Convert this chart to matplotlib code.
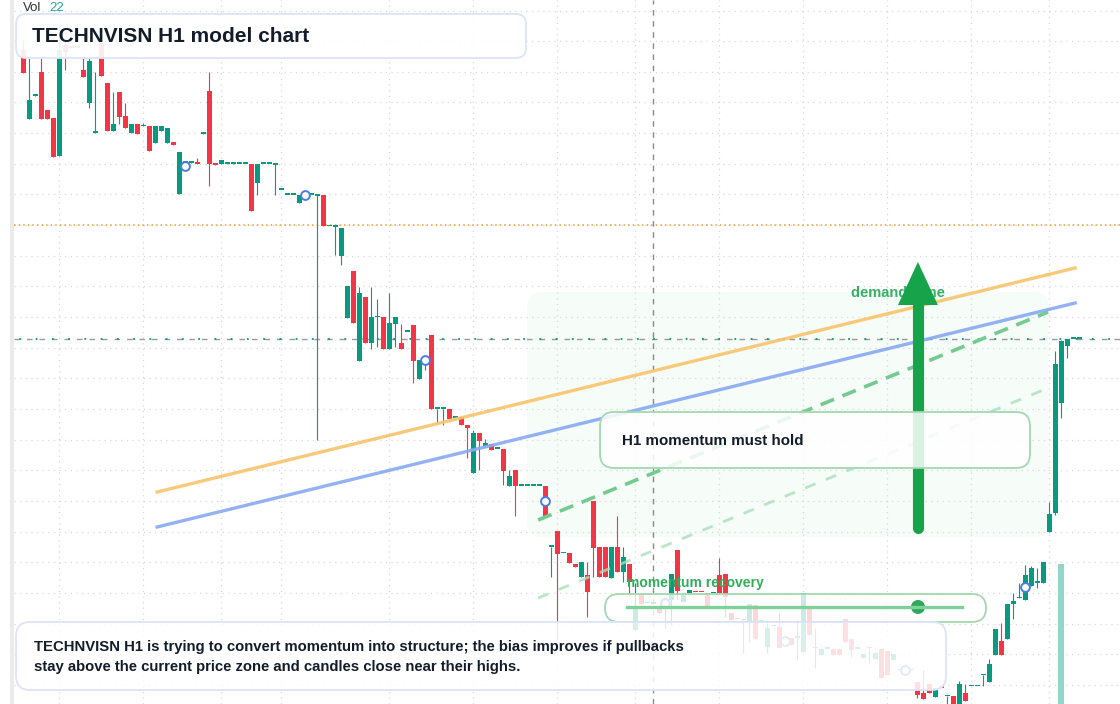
import matplotlib
matplotlib.use("Agg")
from matplotlib import pyplot as plt
from matplotlib.patches import FancyBboxPatch, Rectangle, Circle

plt.rcParams['font.family'] = ['Liberation Sans', 'DejaVu Sans']

# свечи H1: open / high / low / close (по индексу бара)
opens = [49.00, 47.62, 48.08, 48.56, 47.80, 47.64, 46.88, 49.10, 49.06, 49.04,
         48.60, 47.94, 47.34, 49.14, 48.34, 47.38, 48.16, 47.68, 47.34, 47.52,
         47.48, 47.48, 47.14, 47.38, 47.14, 47.16, 46.12, 46.74, 46.75, 46.74,
         47.33, 48.18, 46.72, 46.72, 46.73, 46.73, 46.72, 46.72, 46.72, 46.34,
         46.72, 46.72, 46.71, 46.20, 46.10, 46.10, 45.94, 46.10, 46.10, 46.09,
         46.10, 45.48, 45.47, 44.88, 43.64, 44.58, 42.78, 44.06, 43.14, 43.66,
         43.66, 43.02, 43.52, 43.14, 43.36, 43.50, 42.42, 42.70, 43.30, 41.82,
         41.82, 41.82, 41.64, 41.66, 41.50, 40.54, 41.34, 41.08, 41.12, 41.02,
         41.02, 40.28, 40.60, 40.28, 40.28, 40.28, 40.28, 40.28, 39.06, 39.38,
         38.94, 38.94, 38.72, 38.46, 38.50, 39.98, 39.06, 39.06, 38.44, 39.06,
         38.56, 38.72, 37.40, 38.12, 37.94, 37.92, 37.84, 37.94, 38.00, 39.00,
         37.96, 38.14, 38.17, 38.17, 38.14, 38.14, 38.50, 38.52, 37.74, 37.63,
         37.61, 37.54, 37.90, 37.56, 37.06, 37.48, 37.46, 37.18, 37.24, 37.24,
         36.96, 37.84, 37.04, 36.90, 37.02, 37.02, 37.02, 37.62, 37.22, 37.02,
         36.84, 37.05, 36.82, 37.02, 36.98, 36.80, 36.60, 36.60, 36.60, 36.36,
         36.14, 36.32, 36.06, 36.25, 36.08, 36.08, 35.88, 36.14, 36.28, 36.28,
         36.50, 36.36, 36.90, 37.18, 37.22, 37.92, 38.04, 38.00, 38.28, 38.34,
         38.34, 39.36, 39.74, 41.94, 43.08, 43.22, 43.22]
highs = [49.20, 48.84, 48.10, 48.84, 47.80, 47.64, 49.50, 49.20, 49.06, 49.06,
         48.90, 48.84, 48.56, 49.20, 48.34, 48.16, 48.16, 47.94, 47.52, 47.52,
         47.54, 47.48, 47.48, 47.48, 47.44, 47.16, 46.96, 46.76, 46.76, 46.84,
         47.34, 48.56, 46.72, 46.80, 46.74, 46.74, 46.72, 46.72, 46.72, 46.72,
         46.72, 46.72, 46.72, 46.20, 46.10, 46.10, 46.10, 46.10, 46.10, 46.10,
         46.10, 45.48, 45.48, 45.44, 44.28, 44.58, 44.26, 44.06, 44.26, 44.02,
         43.66, 44.14, 43.66, 43.52, 43.36, 43.50, 42.80, 42.76, 43.30, 41.82,
         41.82, 41.82, 41.64, 41.66, 41.50, 41.40, 41.34, 41.22, 41.12, 41.02,
         41.02, 40.60, 40.60, 40.28, 40.28, 40.28, 40.28, 40.28, 39.06, 39.38,
         38.94, 38.94, 38.72, 38.76, 38.76, 39.98, 39.06, 39.06, 39.06, 39.68,
         39.06, 38.72, 38.34, 38.12, 37.94, 37.92, 37.84, 38.00, 38.52, 39.00,
         38.12, 38.20, 38.17, 38.17, 38.14, 38.14, 38.84, 38.52, 37.74, 37.63,
         37.61, 37.92, 37.90, 37.56, 37.54, 37.48, 37.74, 37.18, 37.24, 37.60,
         38.14, 37.84, 37.44, 37.02, 37.02, 37.02, 37.02, 37.62, 37.22, 37.02,
         36.92, 37.05, 36.94, 37.02, 36.98, 36.92, 36.60, 36.60, 36.60, 36.36,
         36.60, 36.32, 36.24, 36.25, 36.08, 36.08, 36.38, 36.32, 36.28, 36.28,
         36.50, 36.82, 37.42, 37.54, 37.92, 38.14, 38.34, 38.70, 38.68, 38.64,
         38.76, 39.96, 42.98, 43.20, 43.22, 43.22, 43.22]
lows = [48.54, 47.62, 48.08, 47.62, 47.62, 46.86, 46.88, 48.60, 49.04, 49.04,
        48.46, 47.84, 47.34, 48.48, 47.38, 47.38, 47.52, 47.44, 47.34, 47.32,
        47.48, 46.98, 47.14, 47.38, 47.14, 47.10, 46.12, 46.74, 46.75, 46.72,
        47.33, 46.28, 46.71, 46.72, 46.73, 46.73, 46.72, 46.72, 45.78, 46.10,
        46.72, 46.72, 46.10, 46.20, 46.10, 46.10, 45.94, 46.10, 46.10, 41.20,
        45.48, 45.48, 44.90, 44.70, 43.64, 43.54, 42.78, 43.14, 43.02, 43.06,
        43.02, 43.02, 43.06, 43.02, 43.36, 42.34, 42.42, 42.60, 41.82, 41.52,
        41.50, 41.62, 41.64, 41.50, 40.84, 40.54, 40.60, 41.08, 41.00, 41.02,
        40.30, 40.28, 39.68, 40.28, 40.28, 40.28, 40.28, 39.68, 38.46, 37.20,
        38.94, 38.74, 38.66, 38.46, 37.66, 38.46, 38.46, 38.46, 38.44, 38.56,
        38.36, 38.10, 37.40, 37.92, 37.94, 37.92, 37.74, 37.44, 37.50, 38.00,
        37.96, 38.14, 38.16, 38.16, 37.86, 38.14, 38.14, 37.66, 37.60, 37.62,
        36.94, 37.16, 37.22, 37.56, 36.94, 37.48, 37.04, 37.18, 37.10, 36.80,
        36.96, 37.30, 36.64, 36.90, 37.02, 36.90, 36.90, 37.16, 36.86, 37.02,
        36.84, 36.74, 36.82, 36.44, 36.50, 36.80, 36.60, 36.60, 36.60, 36.04,
        36.02, 36.14, 36.06, 36.24, 35.92, 35.88, 35.88, 35.98, 36.28, 36.28,
        36.28, 36.36, 36.90, 36.90, 37.22, 37.62, 38.04, 38.00, 38.28, 38.24,
        38.34, 39.36, 39.70, 41.64, 42.84, 43.22, 43.22]
closes = [48.54, 48.00, 48.10, 47.62, 47.62, 46.86, 49.00, 48.96, 49.04, 49.06,
          48.46, 48.78, 47.36, 48.48, 47.38, 47.52, 47.66, 47.44, 47.52, 47.32,
          47.50, 46.98, 47.48, 47.48, 47.44, 47.10, 46.96, 46.76, 46.76, 46.72,
          47.34, 46.72, 46.71, 46.80, 46.74, 46.74, 46.72, 46.72, 45.78, 46.72,
          46.72, 46.72, 46.72, 46.20, 46.10, 46.10, 46.10, 46.10, 46.10, 46.10,
          45.48, 45.48, 45.48, 45.44, 44.28, 43.54, 44.14, 43.14, 43.66, 43.67,
          43.02, 43.54, 43.66, 43.02, 43.36, 42.78, 42.80, 42.71, 41.82, 41.82,
          41.82, 41.62, 41.64, 41.50, 41.44, 41.34, 41.18, 41.14, 41.00, 41.02,
          40.58, 40.48, 40.28, 40.28, 40.28, 40.28, 40.28, 39.68, 39.06, 38.92,
          38.94, 38.74, 38.66, 38.76, 38.16, 39.04, 38.46, 38.46, 39.06, 38.56,
          38.86, 38.36, 37.86, 37.92, 37.94, 37.92, 37.74, 37.94, 38.52, 38.18,
          38.12, 38.20, 38.16, 38.16, 37.86, 38.14, 38.14, 38.06, 37.60, 37.62,
          37.60, 37.92, 37.22, 37.56, 37.44, 37.48, 37.04, 37.18, 37.10, 37.24,
          38.14, 37.30, 37.04, 37.02, 37.02, 36.90, 36.90, 37.16, 37.00, 37.02,
          36.92, 37.04, 36.94, 36.44, 36.50, 36.92, 36.60, 36.60, 36.60, 36.10,
          36.02, 36.14, 36.24, 36.24, 36.08, 35.88, 36.32, 35.98, 36.28, 36.28,
          36.50, 36.72, 37.42, 36.90, 37.92, 37.98, 38.04, 38.50, 38.64, 38.34,
          38.76, 39.72, 42.72, 43.18, 43.22, 43.22, 43.22]

# отметки (кружки) на барах
marker_idx = [27, 47, 67, 87, 107, 127, 147, 167]
marker_val = [46.68, 46.10, 42.80, 39.98, 37.94, 37.18, 36.60, 38.26]

# границы сессий (вертикальная сетка)
session_idx = [6, 20, 33, 43, 61, 75, 89, 102, 116, 130, 144, 158, 171]

# трендовые линии: (x0, x1), (y0, y1)
orange_x, orange_y = [22.3, 175.3], [40.16, 44.64]
blue_x, blue_y = [22.3, 175.3], [39.46, 43.94]
green_x, green_y = [85.8, 170.8], [39.60, 43.76]
green2_x, green2_y = [85.8, 170.8], [38.04, 42.24]

zone_x, zone_y = [84.0, 170.8], [39.26, 44.16]
arrow_x, arrow_y = 149.1, [39.44, 44.76]
alert_level = 45.50
last_price = 43.22
cross_idx = 105
vol_idx, vol_value = 173, 22

UP, DOWN = '#089981', '#f23645'

fig = plt.figure(figsize=(11.2, 7.04), dpi=100)
ax = fig.add_axes([0, 0, 1, 1], zorder=1)
ax.set_xlim(-3.883, 182.78)
ax.set_ylim(35.92, 50.0)
ax.axis('off')

# сетка
k = 0
while 49.79 - 0.613 * k > 35.92:
    ax.axhline(49.79 - 0.613 * k, xmin=0.0125, color='#d8d8d8', lw=0.9,
               ls=(0, (1, 3.5)), zorder=1)
    k += 1
for s in session_idx:
    ax.axvline(s, color='#d8d8d8', lw=0.9, ls=(0, (1, 3.5)), zorder=1)

ax.axhline(alert_level, xmin=0.0125, color='#f0a030', lw=1.1, ls=(0, (1, 2)), zorder=1.5)
ax.axhline(last_price, xmin=0.0125, color='#9a9a9a', lw=1, ls=(0, (4, 5)), zorder=1.5)
ax.axhline(last_price, xmin=0.0125, color=UP, lw=1.3, ls=(6, (1, 8)), zorder=1.6)
ax.axvline(cross_idx, color='#8a8a8a', lw=1, ls=(0, (4, 4)), zorder=1.5)

# свечи
for i in range(len(opens)):
    o, h, l, c = opens[i], highs[i], lows[i], closes[i]
    col = UP if c >= o else DOWN
    ax.vlines(i, l, h, color=col, lw=0.8, zorder=3)
    body = max(abs(c - o), 0.03)
    ax.bar(i, body, bottom=min(o, c), width=0.78, color=col, lw=0, zorder=3)

# трендовые линии
ax.plot(orange_x, orange_y, color='#f9c46b', lw=2.4, alpha=0.9, zorder=4)
ax.plot(blue_x, blue_y, color='#87a9f3', lw=2.4, alpha=0.9, zorder=4)
ax.plot(green_x, green_y, color='#74cb90', lw=2.6, ls=(0, (4, 2.5)), zorder=4)
ax.plot(green2_x, green2_y, color='#a8e0ba', lw=2, alpha=0.8, ls=(0, (4, 4)), zorder=4)

ax.scatter(marker_idx, marker_val, s=40, facecolor='white', edgecolor='#4a7be8',
           lw=1.4, zorder=5)

# стрелка и подпись зоны
ax.text(137.95, 44.14, 'demand zone', color='#35b064', fontsize=10.5,
        fontweight='bold', va='center', ha='left', zorder=5)
ax.plot([arrow_x, arrow_x], [arrow_y[0], arrow_y[1] - 0.8], color='#16a34a',
        lw=8, solid_capstyle='round', zorder=6)
ax.fill([arrow_x - 3.33, arrow_x + 3.33, arrow_x],
        [arrow_y[1] - 0.86, arrow_y[1] - 0.86, arrow_y[1]], color='#16a34a', lw=0, zorder=6)

# объём
axv = fig.add_axes([0, 0, 1, 1], zorder=2, sharex=ax)
axv.set_ylim(0, vol_value * 704 / 140)
axv.bar(vol_idx, vol_value, width=1.0, color='#93d5c9')
axv.axis('off')

# слой с панелями (в пикселях)
ov = fig.add_axes([0, 0, 1, 1], zorder=3)
ov.set_xlim(0, 1120)
ov.set_ylim(704, 0)
ov.axis('off')

# зона спроса под свечами
fig.canvas.draw()
p0 = ov.transData.inverted().transform(ax.transData.transform((zone_x[0], zone_y[1])))
p1 = ov.transData.inverted().transform(ax.transData.transform((zone_x[1], zone_y[0])))
zone = FancyBboxPatch((p0[0], p0[1]), p1[0] - p0[0], p1[1] - p0[1],
                      boxstyle='round,pad=0,rounding_size=14', fc='#f6fcf7', ec='none',
                      transform=ov.transData, zorder=0.5)
ax.add_artist(zone)

ov.add_patch(Rectangle((10, 0), 4, 704, color='#ebebeb', lw=0))

def panel(x, y, w, h, r, ec, alpha):
    ov.add_patch(FancyBboxPatch((x, y), w, h, boxstyle='round,pad=0,rounding_size=%d' % r,
                                fc=(1, 1, 1, alpha), ec=ec, lw=1.3))

panel(16, 14, 510, 44, 10, '#dbe5f7', 0.9)
ov.text(32, 36, 'TECHNVISN H1 model chart', fontsize=15, fontweight='bold',
        color='#131c2b', va='center')
ov.text(23, 8, 'Vol', fontsize=9.5, color='#333333', va='center')
ov.text(49, 8, '22', fontsize=9.5, color='#26a69a', va='center')

panel(600, 412, 430, 56, 14, '#a3d9b1', 0.85)
ov.text(622, 441, 'H1 momentum must hold', fontsize=10.9, fontweight='bold',
        color='#131c2b', va='center')

panel(605, 594, 381, 28, 14, '#a3d9b1', 0.8)
ov.plot([627, 962], [607, 607], color='#7fd19a', lw=2.4)
ov.add_patch(Circle((918, 607), 7, color='#2ea85a', lw=0))
ov.text(627, 583, 'momentum recovery', fontsize=10, fontweight='bold',
        color='#2fae5a', va='center')

panel(16, 622, 930, 68, 14, '#dbe5f7', 0.85)
ov.text(34, 647, 'TECHNVISN H1 is trying to convert momentum into structure; the bias improves if pullbacks',
        fontsize=10.75, fontweight='bold', color='#131c2b', va='center')
ov.text(34, 667, 'stay above the current price zone and candles close near their highs.',
        fontsize=10.75, fontweight='bold', color='#131c2b', va='center')

fig.savefig('out.png', dpi=100)
